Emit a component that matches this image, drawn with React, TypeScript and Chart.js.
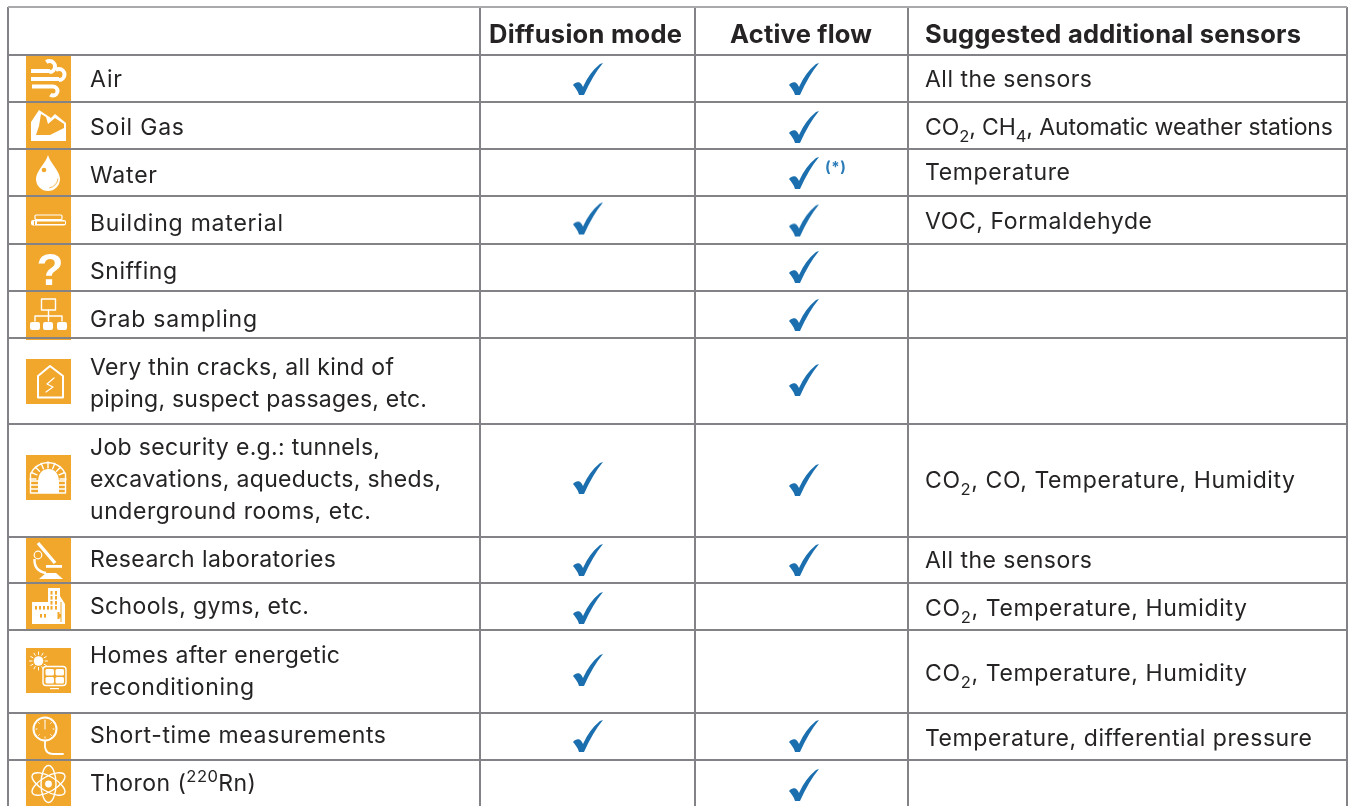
import React, { useEffect, useRef } from "react";
import { Chart, registerables } from "chart.js";

Chart.register(...registerables);

// ---------- data ----------
const columnHeaders = ["Diffusion mode", "Active flow", "Suggested additional sensors"];
const rowLabels: string[][] = [
  ["Air"],
  ["Soil Gas"],
  ["Water"],
  ["Building material"],
  ["Sniffing"],
  ["Grab sampling"],
  ["Very thin cracks, all kind of", "piping, suspect passages, etc."],
  ["Job security e.g.: tunnels,", "excavations, aqueducts, sheds,", "underground rooms, etc."],
  ["Research laboratories"],
  ["Schools, gyms, etc."],
  ["Homes after energetic", "reconditioning"],
  ["Short-time measurements"],
  ["Thoron (^{220}Rn)"],
];
const diffusionMode = [1, 0, 0, 1, 0, 0, 0, 1, 1, 1, 1, 1, 0];
const activeFlow = [1, 1, 1, 1, 1, 1, 1, 1, 1, 0, 0, 1, 1];
const sensors = [
  "All the sensors",
  "CO_{2}, CH_{4}, Automatic weather stations",
  "Temperature",
  "VOC, Formaldehyde",
  "",
  "",
  "",
  "CO_{2}, CO, Temperature, Humidity",
  "All the sensors",
  "CO_{2}, Temperature, Humidity",
  "CO_{2}, Temperature, Humidity",
  "Temperature, differential pressure",
  "",
];
const footnoteMark = "(*)";

// ---------- layout (table geometry on the two linear scales) ----------
const colEdges = [8, 480, 695, 908, 1347];
const rowEdges = [7, 55, 102, 149, 196, 244, 291, 338, 424, 537, 583, 630, 713, 760];
const labelBaselines = [[87], [134.5], [182.5], [230.5], [278.5], [326.5], [375, 407], [455, 487, 519], [567], [614], [662.5, 694.5], [742.5], [790.5]];
const labelRightEdges = [[122], [184], [157], [283], [177], [257], [394, 427], [380, 441, 371], [336], [309], [340, 254], [386], [256]];
const sensorBaselines = [87, 135, 180, 229, 0, 0, 0, 488, 568, 616, 681, 746, 0];
const sensorRightEdges = [1092, 1333, 1070, 1152, 0, 0, 0, 1295, 1092, 1247, 1247, 1312, 0];
const headerLeft = [489, 730, 925];
const headerRight = [682, 872, 1301];
const tileBoxes = [[55, 47], [102, 47], [149, 47], [196, 48], [244, 47], [291, 49], [359, 45], [455, 45], [537, 46], [583, 47], [648, 45], [713, 47], [760, 46]];
const diffusionCheckY = [79, 0, 0, 218.5, 0, 0, 0, 478, 560, 608, 670, 736, 0];
const activeCheckY = [79, 127, 173, 220.5, 267, 315, 380, 480, 560, 0, 0, 736, 785];
const ORANGE = "#F0A72B";
const BLUE = "#1B6FAF";
const INK = "#262324";
const LINE = "#838387";
const W = 1351;
const H = 806;
const FONT = "Inter";

function tile(h: number, draw: (c: CanvasRenderingContext2D) => void) {
  const cv = document.createElement("canvas");
  cv.width = 45;
  cv.height = h;
  const c = cv.getContext("2d")!;
  c.fillStyle = ORANGE;
  c.fillRect(0, 0, 45, h);
  c.fillStyle = "#fff";
  c.strokeStyle = "#fff";
  c.lineCap = "round";
  c.lineJoin = "round";
  draw(c);
  return cv;
}
const poly = (c: CanvasRenderingContext2D, p: number[][]) => {
  c.beginPath();
  p.forEach(([x, y], i) => (i ? c.lineTo(x, y) : c.moveTo(x, y)));
  c.closePath();
};
const rr = (c: CanvasRenderingContext2D, x: number, y: number, w: number, h: number, r: number) => {
  c.beginPath();
  c.roundRect(x, y, w, h, r);
};

const iconPainters: ((c: CanvasRenderingContext2D) => void)[] = [
  (c) => {
    c.lineWidth = 4;
    c.lineCap = "butt";
    c.beginPath(); c.moveTo(5, 16); c.lineTo(24, 16); c.stroke();
    c.beginPath(); c.arc(23.5, 11.5, 5.5, Math.PI / 2, -Math.PI * 0.7, true); c.stroke();
    c.beginPath(); c.moveTo(5, 24); c.lineTo(33, 24); c.stroke();
    c.beginPath(); c.arc(33, 19.5, 5.5, Math.PI / 2, -Math.PI * 0.7, true); c.stroke();
    c.beginPath(); c.moveTo(6, 31.5); c.lineTo(27, 31.5); c.stroke();
    c.beginPath(); c.arc(27, 36, 4.5, -Math.PI / 2, Math.PI * 0.7); c.stroke();
  },
  (c) => {
    poly(c, [[5, 20], [13, 8], [22, 14], [25, 16], [29, 12], [40, 21], [40, 39], [5, 39]]);
    c.fill();
    c.fillStyle = ORANGE;
    poly(c, [[15, 12], [20, 15], [22, 22], [29, 16], [38, 22], [38, 26], [24, 33], [10, 33], [13, 24]]);
    c.fill();
  },
  (c) => {
    c.beginPath();
    c.moveTo(22, 6);
    c.bezierCurveTo(24, 14, 34, 22, 34, 30);
    c.arc(22, 30, 12, 0, Math.PI);
    c.bezierCurveTo(10, 22, 20, 14, 22, 6);
    c.fill();
    c.fillStyle = ORANGE;
    c.beginPath(); c.arc(18, 21, 2.3, 0, 7); c.fill();
    c.strokeStyle = ORANGE; c.lineWidth = 0.8;
    c.beginPath(); c.arc(22, 29, 10, 0.1, 1.4); c.stroke();
  },
  (c) => {
    c.lineWidth = 1.2;
    rr(c, 9, 19, 27, 4.5, 1); c.stroke();
    rr(c, 5, 24, 35, 5.5, 2); c.fill();
    c.fillStyle = ORANGE;
    c.fillRect(11, 25.5, 28, 2.5);
    c.fillRect(8, 25, 1, 4);
  },
  (c) => {
    c.font = "bold 44px 'Liberation Sans'";
    c.textAlign = "center";
    c.fillText("?", 24, 41);
  },
  (c) => {
    c.lineWidth = 1.4;
    c.strokeRect(15.5, 8, 14, 11);
    c.beginPath(); c.moveTo(22.5, 19); c.lineTo(22.5, 30); c.moveTo(9, 30); c.lineTo(9, 25); c.lineTo(36, 25); c.lineTo(36, 30); c.stroke();
    rr(c, 4, 31, 10, 8, 2); c.fill();
    rr(c, 17, 31, 10, 8, 2); c.fill();
    rr(c, 31, 31, 10, 8, 2); c.fill();
  },
  (c) => {
    c.lineWidth = 2;
    poly(c, [[24, 7], [37, 17], [37, 38.5], [12, 38.5], [12, 17]]);
    c.stroke();
    c.lineWidth = 1.2;
    c.beginPath(); c.moveTo(28, 19); c.lineTo(21, 25); c.lineTo(27, 28); c.lineTo(20, 33); c.stroke();
  },
  (c) => {
    c.lineWidth = 1.4;
    c.beginPath();
    c.moveTo(4.5, 38); c.lineTo(4.5, 19); c.quadraticCurveTo(10, 8, 22, 7.5); c.quadraticCurveTo(34, 8, 39.5, 19); c.lineTo(39.5, 38); c.closePath();
    c.stroke();
    for (let a = 0; a <= 8; a++) {
      const t = Math.PI + (a * Math.PI) / 8;
      c.beginPath();
      c.moveTo(22 + 12 * Math.cos(t), 24 + 11 * Math.sin(t));
      c.lineTo(22 + 18 * Math.cos(t), 24 + 17 * Math.sin(t));
      c.stroke();
    }
    [26, 30, 34].forEach((y) => {
      c.beginPath(); c.moveTo(4.5, y); c.lineTo(12, y); c.moveTo(33, y); c.lineTo(39.5, y); c.stroke();
    });
    c.beginPath();
    c.moveTo(12, 38); c.lineTo(12, 26); c.quadraticCurveTo(13, 14, 22.5, 14); c.quadraticCurveTo(32, 14, 33, 26); c.lineTo(33, 38); c.closePath();
    c.fill();
  },
  (c) => {
    c.lineWidth = 3.4;
    c.lineCap = "butt";
    c.beginPath(); c.moveTo(12, 6); c.lineTo(29, 26); c.stroke();
    c.lineWidth = 1.2;
    c.beginPath(); c.arc(12, 18, 3.8, 0, 7); c.stroke();
    c.lineWidth = 2.4;
    c.beginPath(); c.moveTo(8.5, 22); c.quadraticCurveTo(8, 34, 20, 36); c.stroke();
    c.fillRect(20, 28, 16, 2.8);
    poly(c, [[13, 42], [20, 36], [30, 36], [37, 42]]);
    c.fill();
  },
  (c) => {
    c.fillRect(22, 5, 12, 36);
    c.fillRect(6, 19, 28, 22);
    poly(c, [[34, 13], [39, 21], [39, 41], [34, 41]]);
    c.fill();
    c.fillStyle = ORANGE;
    [[24.5, 8], [29, 8], [24.5, 13], [29, 13], [24.5, 18], [29, 18], [24.5, 23], [29, 23], [9, 23], [13, 23], [17, 23], [21, 23], [14, 31], [18, 31], [33, 31]].forEach(([x, y]) => c.fillRect(x, y, 2, 3.6));
    c.fillRect(31.5, 29, 2, 7);
    c.fillRect(34.5, 19, 1, 20);
  },
  (c) => {
    c.beginPath(); c.arc(12.5, 13, 4.8, 0, 7); c.fill();
    c.lineWidth = 1;
    for (let a = 0; a < 12; a++) {
      const t = (a * Math.PI) / 6;
      c.beginPath();
      c.moveTo(12.5 + 6.5 * Math.cos(t), 13 + 6.5 * Math.sin(t));
      c.lineTo(12.5 + 9 * Math.cos(t), 13 + 9 * Math.sin(t));
      c.stroke();
    }
    c.lineWidth = 1.4;
    rr(c, 17, 18.5, 23, 19, 3); c.stroke();
    [[19.5, 21], [29.5, 21], [19.5, 29], [29.5, 29]].forEach(([x, y]) => { rr(c, x, y, 8.5, 6.5, 1.5); c.fill(); });
    c.fillRect(24, 40, 9, 1.2);
  },
  (c) => {
    c.lineWidth = 2;
    c.beginPath(); c.arc(19, 16, 11.5, 0, 7); c.stroke();
    c.lineWidth = 1;
    c.beginPath(); c.moveTo(19, 8); c.lineTo(19, 16); c.stroke();
    for (let a = 0; a < 8; a++) {
      const t = (a * Math.PI) / 4;
      c.beginPath(); c.moveTo(19 + 8 * Math.cos(t), 16 + 8 * Math.sin(t)); c.lineTo(19 + 9 * Math.cos(t), 16 + 9 * Math.sin(t)); c.stroke();
    }
    c.lineWidth = 1.8;
    c.beginPath(); c.moveTo(19, 28); c.lineTo(19, 34); c.quadraticCurveTo(20, 41, 27, 41); c.lineTo(37, 41); c.stroke();
  },
  (c) => {
    c.lineWidth = 1.4;
    [Math.PI / 6, -Math.PI / 6, Math.PI / 2].forEach((r) => {
      c.beginPath(); c.ellipse(22.5, 24, 18.5, 7.5, r, 0, 7); c.stroke();
    });
    c.beginPath(); c.arc(22.5, 24, 3.4, 0, 7); c.fill();
  },
];

function checkSprite() {
  const cv = document.createElement("canvas");
  cv.width = 32;
  cv.height = 34;
  const c = cv.getContext("2d")!;
  c.translate(1, 1);
  c.fillStyle = BLUE;
  c.beginPath();
  c.moveTo(30, 0);
  c.quadraticCurveTo(20, 12, 11, 32);
  c.lineTo(6, 32);
  c.bezierCurveTo(5, 28, 2, 24.5, 0, 22);
  c.bezierCurveTo(2, 19.3, 5, 18.6, 6.5, 19.6);
  c.bezierCurveTo(8, 20.6, 9, 22, 10, 24);
  c.quadraticCurveTo(16, 10, 27, 1);
  c.closePath();
  c.fill();
  return cv;
}

const colMid = (i: number) => (colEdges[i] + colEdges[i + 1]) / 2;

// ---------- text helpers ----------
function splitRuns(s: string) {
  return s.split(/([_^]\{[^}]*\})/).filter(Boolean).map((p) => {
    const m = p.match(/^([_^])\{(.*)\}$/);
    return m ? { t: m[2], scale: 0.72, dy: m[1] === "_" ? 7 : -9 } : { t: p, scale: 1, dy: 0 };
  });
}
function drawFit(c: CanvasRenderingContext2D, s: string, x: number, right: number, y: number, size: number, weight: string) {
  const runs = splitRuns(s);
  let natural = 0;
  let chars = 0;
  (c as any).letterSpacing = "0px";
  for (const r of runs) {
    c.font = `${weight} ${size * r.scale}px '${FONT}'`;
    natural += c.measureText(r.t).width;
    chars += r.t.length;
  }
  const spacing = (right - x - natural) / Math.max(1, chars - 1);
  (c as any).letterSpacing = `${spacing.toFixed(3)}px`;
  let px = x;
  for (const r of runs) {
    c.font = `${weight} ${size * r.scale}px '${FONT}'`;
    c.fillText(r.t, px, y + r.dy);
    px += c.measureText(r.t).width;
  }
}

const tablePlugin = {
  id: "tableText",
  afterDraw(chart: any) {
    const { ctx, scales } = chart;
    const X = (v: number) => scales.x.getPixelForValue(v);
    const Y = (v: number) => scales.y.getPixelForValue(v);
    ctx.save();
    ctx.textBaseline = "alphabetic";
    ctx.fillStyle = INK;
    columnHeaders.forEach((t, i) => drawFit(ctx, t, X(headerLeft[i]), X(headerRight[i]), Y(43), 25.5, "bold"));
    rowLabels.forEach((lines, r) =>
      lines.forEach((t, l) => drawFit(ctx, t, X(90), X(labelRightEdges[r][l]), Y(labelBaselines[r][l]), 23, "normal")),
    );
    sensors.forEach((t, r) => {
      if (t) drawFit(ctx, t, X(925), X(sensorRightEdges[r]), Y(sensorBaselines[r]), 23, "normal");
    });
    ctx.fillStyle = "#2B7CB8";
    drawFit(ctx, footnoteMark, X(825), X(846), Y(172), 15, "bold");
    ctx.restore();
  },
};

export default function App() {
  const ref = useRef<HTMLCanvasElement>(null);
  useEffect(() => {
    document.body.style.margin = "0";
    const check = checkSprite();
    const tiles = iconPainters.map((p, i) => tile(tileBoxes[i][1], p));
    const chart = new Chart(ref.current!, {
      type: "scatter",
      data: {
        datasets: [
          {
            label: "Application",
            data: tileBoxes.map(([top, h]) => ({ x: 48.5, y: top + h / 2 })),
            pointStyle: tiles as any,
          },
          {
            label: columnHeaders[0],
            data: diffusionMode.flatMap((v, r) => (v ? [{ x: colMid(1) + 0.5, y: diffusionCheckY[r] }] : [])),
            pointStyle: check as any,
          },
          {
            label: columnHeaders[1],
            data: activeFlow.flatMap((v, r) => (v ? [{ x: colMid(2) + 2.5, y: activeCheckY[r] }] : [])),
            pointStyle: check as any,
          },
        ],
      },
      options: {
        animation: false,
        responsive: false,
        devicePixelRatio: 1,
        layout: { autoPadding: false, padding: { left: colEdges[0], top: rowEdges[0], right: W - colEdges[4], bottom: 0 } },
        plugins: { legend: { display: false }, tooltip: { enabled: false } },
        events: [],
        scales: {
          x: {
            type: "linear",
            min: colEdges[0],
            max: colEdges[4],
            afterBuildTicks: (a: any) => { a.ticks = colEdges.map((value) => ({ value })); },
            ticks: { display: false, autoSkip: false },
            border: { display: false },
            grid: {
              z: 1,
              drawTicks: false,
              color: LINE,
              lineWidth: 2,
            },
          },
          y: {
            type: "linear",
            reverse: true,
            min: rowEdges[0],
            max: H,
            afterBuildTicks: (a: any) => { a.ticks = rowEdges.map((value) => ({ value })); },
            ticks: { display: false, autoSkip: false },
            border: { display: false },
            grid: {
              z: 1,
              drawTicks: false,
              color: (c: any) => (c.tick && c.tick.value === rowEdges[0] ? "#a9a9ac" : LINE),
              lineWidth: 2,
            },
          },
        },
      },
      plugins: [tablePlugin as any],
    } as any);
    return () => chart.destroy();
  }, []);
  return (
    <div style={{ position: "fixed", left: 0, top: 0, width: W, height: H, background: "#fff" }}>
      <canvas ref={ref} width={W} height={H} style={{ display: "block" }} />
    </div>
  );
}
